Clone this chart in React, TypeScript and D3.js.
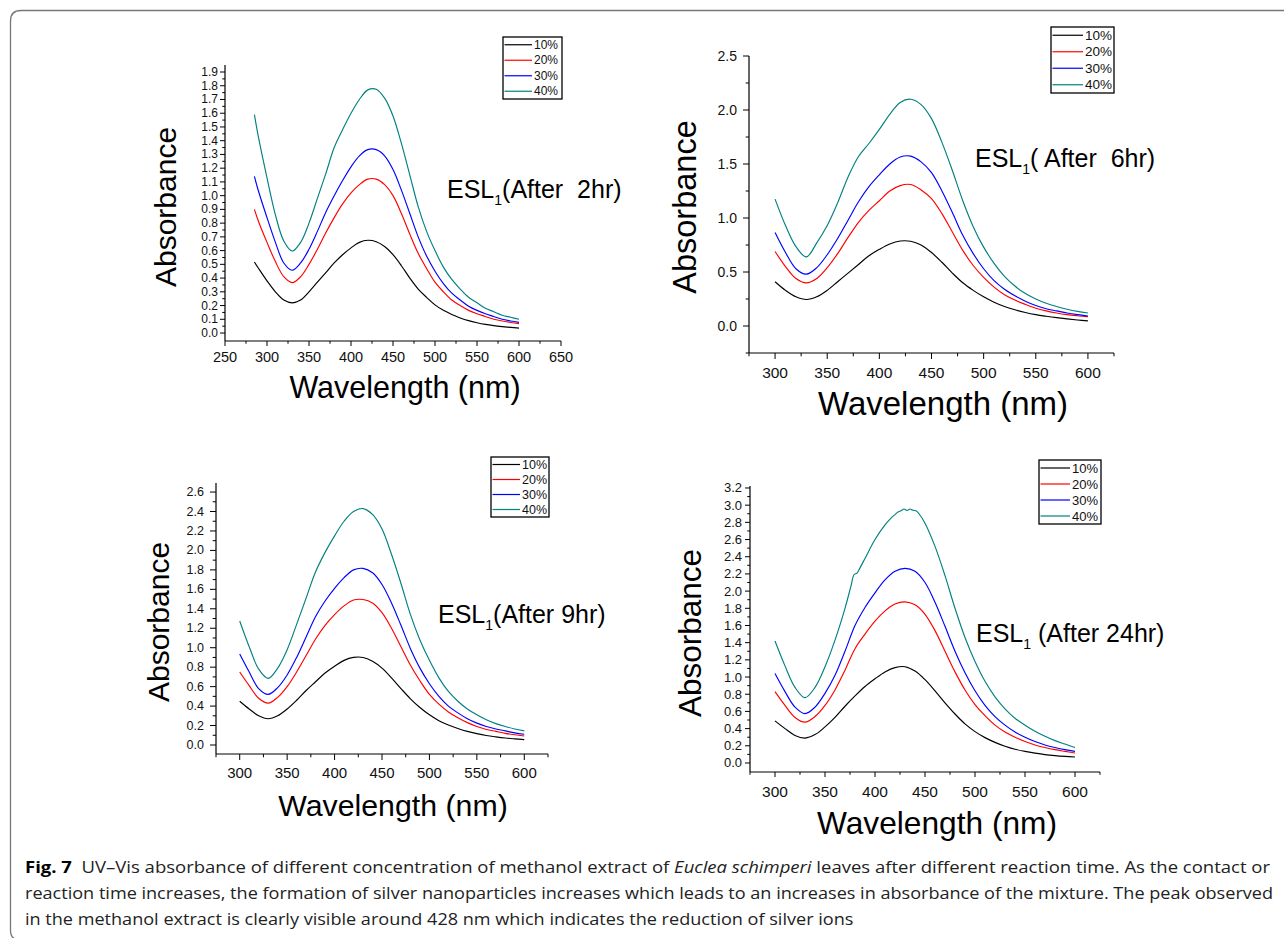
import React from "react";
import * as d3 from "d3";

// ---------- data ----------
const SERIES_NAMES = ["10%", "20%", "30%", "40%"];
const SERIES_COLORS = ["#000000", "#ff0000", "#0000ff", "#008080"];

const WL_2HR = [285, 290, 300, 310, 320, 330, 340, 350, 360, 370, 380, 390, 400, 410, 420, 430, 440, 450, 460, 470, 480, 490, 500, 510, 520, 530, 540, 550, 560, 570, 580, 590, 600];
const WL = [300, 310, 320, 330, 340, 350, 360, 370, 380, 390, 400, 410, 420, 430, 440, 450, 460, 470, 480, 490, 500, 510, 520, 530, 540, 550, 560, 570, 580, 590, 600];
const WL_24_40 = [300, 310, 320, 330, 340, 350, 360, 370, 376, 379, 382, 385, 390, 400, 410, 416, 420, 423, 426, 429, 432, 435, 438, 441, 444, 450, 460, 470, 480, 490, 500, 510, 520, 530, 540, 550, 560, 570, 580, 590, 600];

// After 2 hr
const A2_10 = [0.517, 0.47, 0.38, 0.30, 0.24, 0.22, 0.24, 0.30, 0.37, 0.44, 0.51, 0.57, 0.62, 0.66, 0.675, 0.665, 0.63, 0.57, 0.49, 0.40, 0.32, 0.26, 0.205, 0.165, 0.135, 0.11, 0.09, 0.075, 0.063, 0.054, 0.047, 0.041, 0.036];
const A2_20 = [0.90, 0.81, 0.66, 0.52, 0.41, 0.367, 0.41, 0.50, 0.61, 0.73, 0.84, 0.94, 1.02, 1.08, 1.12, 1.12, 1.08, 1.00, 0.87, 0.72, 0.58, 0.47, 0.37, 0.30, 0.24, 0.20, 0.165, 0.14, 0.12, 0.10, 0.088, 0.077, 0.068];
const A2_30 = [1.14, 1.03, 0.84, 0.66, 0.51, 0.457, 0.51, 0.61, 0.74, 0.88, 1.00, 1.11, 1.21, 1.29, 1.335, 1.335, 1.29, 1.19, 1.04, 0.87, 0.70, 0.56, 0.45, 0.36, 0.29, 0.24, 0.195, 0.165, 0.14, 0.12, 0.10, 0.088, 0.078];
const A2_40 = [1.59, 1.42, 1.13, 0.86, 0.67, 0.597, 0.66, 0.80, 0.98, 1.16, 1.35, 1.48, 1.60, 1.70, 1.77, 1.775, 1.71, 1.58, 1.38, 1.15, 0.92, 0.74, 0.60, 0.48, 0.39, 0.32, 0.26, 0.22, 0.18, 0.155, 0.13, 0.115, 0.10];

// After 6 hr
const A6_10 = [0.41, 0.33, 0.27, 0.245, 0.27, 0.33, 0.41, 0.49, 0.57, 0.65, 0.71, 0.76, 0.787, 0.785, 0.75, 0.68, 0.59, 0.49, 0.40, 0.33, 0.27, 0.22, 0.18, 0.15, 0.125, 0.105, 0.09, 0.077, 0.066, 0.056, 0.047];
const A6_20 = [0.69, 0.55, 0.44, 0.40, 0.44, 0.54, 0.67, 0.82, 0.96, 1.07, 1.16, 1.25, 1.30, 1.31, 1.26, 1.18, 1.04, 0.87, 0.70, 0.56, 0.45, 0.36, 0.29, 0.24, 0.20, 0.165, 0.14, 0.12, 0.105, 0.095, 0.087];
const A6_30 = [0.865, 0.68, 0.53, 0.48, 0.54, 0.66, 0.81, 0.98, 1.15, 1.29, 1.40, 1.50, 1.565, 1.573, 1.52, 1.42, 1.25, 1.05, 0.84, 0.67, 0.53, 0.42, 0.34, 0.28, 0.23, 0.19, 0.16, 0.14, 0.12, 0.105, 0.093];
const A6_40 = [1.175, 0.93, 0.735, 0.64, 0.77, 0.93, 1.14, 1.38, 1.57, 1.69, 1.82, 1.96, 2.07, 2.10, 2.05, 1.92, 1.70, 1.44, 1.16, 0.92, 0.73, 0.58, 0.46, 0.37, 0.30, 0.25, 0.21, 0.18, 0.155, 0.135, 0.12];

// After 9 hr
const A9_10 = [0.45, 0.37, 0.30, 0.27, 0.30, 0.37, 0.46, 0.56, 0.65, 0.74, 0.81, 0.87, 0.90, 0.90, 0.86, 0.79, 0.69, 0.58, 0.475, 0.385, 0.31, 0.25, 0.205, 0.17, 0.14, 0.117, 0.098, 0.084, 0.072, 0.063, 0.055];
const A9_20 = [0.75, 0.61, 0.48, 0.43, 0.49, 0.60, 0.75, 0.92, 1.09, 1.23, 1.34, 1.43, 1.49, 1.495, 1.46, 1.36, 1.20, 1.01, 0.82, 0.66, 0.52, 0.42, 0.34, 0.28, 0.23, 0.19, 0.16, 0.14, 0.12, 0.105, 0.093];
const A9_30 = [0.935, 0.75, 0.58, 0.52, 0.59, 0.72, 0.90, 1.11, 1.32, 1.48, 1.61, 1.72, 1.80, 1.815, 1.77, 1.65, 1.46, 1.23, 0.99, 0.79, 0.63, 0.50, 0.40, 0.33, 0.27, 0.225, 0.19, 0.165, 0.145, 0.125, 0.11];
const A9_40 = [1.275, 1.01, 0.78, 0.685, 0.79, 0.98, 1.24, 1.51, 1.78, 1.98, 2.15, 2.30, 2.40, 2.43, 2.37, 2.22, 1.96, 1.66, 1.34, 1.08, 0.87, 0.69, 0.55, 0.45, 0.37, 0.31, 0.26, 0.22, 0.19, 0.165, 0.145];

// After 24 hr
const A24_10 = [0.49, 0.40, 0.32, 0.29, 0.33, 0.42, 0.53, 0.66, 0.78, 0.89, 0.98, 1.06, 1.11, 1.12, 1.07, 0.97, 0.84, 0.70, 0.57, 0.455, 0.365, 0.295, 0.24, 0.195, 0.16, 0.135, 0.115, 0.098, 0.086, 0.077, 0.07];
const A24_20 = [0.83, 0.67, 0.53, 0.475, 0.54, 0.67, 0.85, 1.08, 1.33, 1.50, 1.65, 1.77, 1.85, 1.875, 1.84, 1.73, 1.54, 1.30, 1.06, 0.85, 0.68, 0.55, 0.44, 0.36, 0.30, 0.25, 0.21, 0.18, 0.155, 0.135, 0.116];
const A24_30 = [1.04, 0.83, 0.65, 0.575, 0.65, 0.81, 1.02, 1.30, 1.60, 1.81, 1.98, 2.13, 2.23, 2.265, 2.23, 2.10, 1.87, 1.59, 1.30, 1.05, 0.84, 0.67, 0.54, 0.44, 0.36, 0.30, 0.25, 0.21, 0.18, 0.155, 0.135];
const A24_40 = [1.42, 1.13, 0.88, 0.76, 0.88, 1.12, 1.43, 1.80, 2.06, 2.19, 2.21, 2.27, 2.38, 2.60, 2.77, 2.85, 2.89, 2.92, 2.935, 2.955, 2.94, 2.955, 2.94, 2.935, 2.90, 2.79, 2.52, 2.18, 1.80, 1.46, 1.18, 0.95, 0.77, 0.63, 0.52, 0.44, 0.37, 0.31, 0.26, 0.22, 0.18];

// ticks
const X_TICKS_2HR = [250, 300, 350, 400, 450, 500, 550, 600, 650];
const X_MINOR_2HR = [275, 325, 375, 425, 475, 525, 575, 625];
const X_TICKS = [300, 350, 400, 450, 500, 550, 600];
const X_MINOR = [275, 325, 375, 425, 475, 525, 575, 625];
const Y_TICKS_2HR = [0, 0.1, 0.2, 0.3, 0.4, 0.5, 0.6, 0.7, 0.8, 0.9, 1.0, 1.1, 1.2, 1.3, 1.4, 1.5, 1.6, 1.7, 1.8, 1.9];
const Y_MINOR_2HR = [0.05, 0.15, 0.25, 0.35, 0.45, 0.55, 0.65, 0.75, 0.85, 0.95, 1.05, 1.15, 1.25, 1.35, 1.45, 1.55, 1.65, 1.75, 1.85];
const Y_TICKS_6HR = [0, 0.5, 1.0, 1.5, 2.0, 2.5];
const Y_MINOR_6HR = [-0.25, 0.25, 0.75, 1.25, 1.75, 2.25];
const Y_TICKS_9HR = [0, 0.2, 0.4, 0.6, 0.8, 1.0, 1.2, 1.4, 1.6, 1.8, 2.0, 2.2, 2.4, 2.6];
const Y_MINOR_9HR = [0.1, 0.3, 0.5, 0.7, 0.9, 1.1, 1.3, 1.5, 1.7, 1.9, 2.1, 2.3, 2.5];
const Y_TICKS_24HR = [0, 0.2, 0.4, 0.6, 0.8, 1.0, 1.2, 1.4, 1.6, 1.8, 2.0, 2.2, 2.4, 2.6, 2.8, 3.0, 3.2];
const Y_MINOR_24HR = [0.1, 0.3, 0.5, 0.7, 0.9, 1.1, 1.3, 1.5, 1.7, 1.9, 2.1, 2.3, 2.5, 2.7, 2.9, 3.1];

const LABELS = ["(After  2hr)", "( After  6hr)", "(After 9hr)", " (After 24hr)"];

const CAPTION_1A = "Fig. 7";
const CAPTION_1B = "  UV–Vis absorbance of different concentration of methanol extract of ";
const CAPTION_1C = "Euclea schimperi";
const CAPTION_1D = " leaves after different reaction time. As the contact or";
const CAPTION_2 = "reaction time increases, the formation of silver nanoparticles increases which leads to an increases in absorbance of the mixture. The peak observed";
const CAPTION_3 = "in the methanol extract is clearly visible around 428 nm which indicates the reduction of silver ions";

// ---------- layout ----------
const FONT = "Arial, 'Liberation Sans', Helvetica, sans-serif";

const PANELS = [
  {
    series: [[WL_2HR, A2_10], [WL_2HR, A2_20], [WL_2HR, A2_30], [WL_2HR, A2_40]],
    xDom: [250, 650], xRange: [225, 561], yDom: [-0.058, 1.951], yRange: [341, 65],
    xTicks: X_TICKS_2HR, xMinor: X_MINOR_2HR, yTicks: Y_TICKS_2HR, yMinor: Y_MINOR_2HR,
    yFont: 12, xFont: 14.5, tick: 5, yGap: 2, xLabelY: 357,
    yTitle: [165, 207, 30], xTitle: [405, 387, 30.5],
    ann: [447, 198], label: LABELS[0],
    legend: [503, 37, 59, 62, 29, 12],
  },
  {
    series: [[WL, A6_10], [WL, A6_20], [WL, A6_30], [WL, A6_40]],
    xDom: [275, 625], xRange: [749, 1114], yDom: [-0.25, 2.5], yRange: [353, 56],
    xTicks: X_TICKS, xMinor: X_MINOR, yTicks: Y_TICKS_6HR, yMinor: Y_MINOR_6HR,
    yFont: 14, xFont: 15.5, tick: 6, yGap: 6, xLabelY: 372,
    yTitle: [685, 207, 32.5], xTitle: [943, 403, 33],
    ann: [975, 167], label: LABELS[1],
    legend: [1051, 27, 63, 66, 32, 13.5],
  },
  {
    series: [[WL, A9_10], [WL, A9_20], [WL, A9_30], [WL, A9_40]],
    xDom: [275, 625], xRange: [216, 548], yDom: [-0.0925, 2.693], yRange: [754, 483],
    xTicks: X_TICKS, xMinor: X_MINOR, yTicks: Y_TICKS_9HR, yMinor: Y_MINOR_9HR,
    yFont: 12.5, xFont: 15, tick: 6, yGap: 6, xLabelY: 772,
    yTitle: [158, 622, 30], xTitle: [393, 805, 30.3],
    ann: [438, 623], label: LABELS[2],
    legend: [491, 457, 58, 60, 29, 12.5],
  },
  {
    series: [[WL, A24_10], [WL, A24_20], [WL, A24_30], [WL_24_40, A24_40]],
    xDom: [275, 625], xRange: [750, 1100], yDom: [-0.105, 3.223], yRange: [772, 486],
    xTicks: X_TICKS, xMinor: X_MINOR, yTicks: Y_TICKS_24HR, yMinor: Y_MINOR_24HR,
    yFont: 13, xFont: 15.5, tick: 5, yGap: 3, xLabelY: 791,
    yTitle: [690, 633, 31.5], xTitle: [937, 823, 31.7],
    ann: [976, 642], label: LABELS[3],
    legend: [1039, 460, 62, 64, 31, 13],
  },
];

const fmt1 = d3.format(".1f");

function Panel({ p }: { p: (typeof PANELS)[number] }) {
  const x = d3.scaleLinear().domain(p.xDom).range(p.xRange);
  const y = d3.scaleLinear().domain(p.yDom).range(p.yRange);
  const xL = p.xRange[0];
  const xR = p.xRange[1];
  const yB = p.yRange[0];
  const yT = p.yRange[1];
  const line = (wl: number[], vals: number[]) =>
    d3
      .line<number>()
      .x((_, i) => x(wl[i]))
      .y((d) => y(d))
      .curve(d3.curveCatmullRom.alpha(0.5))(vals) || "";
  const [lx, ly, lw, lh, lineW, lFont] = p.legend;
  const rowH = lh / 4;
  return (
    <g fontFamily={FONT}>
      {p.series.map((s, i) => (
        <path key={i} d={line(s[0], s[1])} fill="none" stroke={SERIES_COLORS[i]} strokeWidth={1.15} />
      ))}
      <line x1={xL} y1={yT} x2={xL} y2={yB} stroke="#000" strokeWidth={1.2} />
      <line x1={xL} y1={yB} x2={xR} y2={yB} stroke="#000" strokeWidth={1.2} />
      {p.yTicks.map((v) => (
        <g key={"yt" + v}>
          <line x1={xL - p.tick} x2={xL} y1={y(v)} y2={y(v)} stroke="#000" strokeWidth={1} />
          <text x={xL - p.tick - p.yGap} y={y(v)} textAnchor="end" dominantBaseline="central" fontSize={p.yFont} fill="#111">
            {fmt1(v)}
          </text>
        </g>
      ))}
      {p.yMinor.map((v) => (
        <line key={"ym" + v} x1={xL - p.tick * 0.55} x2={xL} y1={y(v)} y2={y(v)} stroke="#000" strokeWidth={1} />
      ))}
      {p.xTicks.map((v) => (
        <g key={"xt" + v}>
          <line x1={x(v)} x2={x(v)} y1={yB} y2={yB + p.tick} stroke="#000" strokeWidth={1} />
          <text x={x(v)} y={p.xLabelY} textAnchor="middle" dominantBaseline="central" fontSize={p.xFont} fill="#111">
            {v}
          </text>
        </g>
      ))}
      {p.xMinor.map((v) => (
        <line key={"xm" + v} x1={x(v)} x2={x(v)} y1={yB} y2={yB + p.tick * 0.55} stroke="#000" strokeWidth={1} />
      ))}
      <text
        transform={`translate(${p.yTitle[0]},${p.yTitle[1]}) rotate(-90)`}
        textAnchor="middle"
        dominantBaseline="central"
        fontSize={p.yTitle[2]}
        fill="#000"
      >
        Absorbance
      </text>
      <text x={p.xTitle[0]} y={p.xTitle[1]} textAnchor="middle" dominantBaseline="central" fontSize={p.xTitle[2]} fill="#000">
        Wavelength (nm)
      </text>
      <text x={p.ann[0]} y={p.ann[1]} fontSize={25} fill="#000" style={{ whiteSpace: "pre" }}>
        <tspan>ESL</tspan>
        <tspan dy={7} fontSize={14}>1</tspan>
        <tspan dy={-7}>{p.label}</tspan>
      </text>
      <rect x={lx} y={ly} width={lw} height={lh} fill="#fff" stroke="#000" strokeWidth={1.3} />
      {SERIES_NAMES.map((n, i) => {
        const cy = ly + rowH * (i + 0.5);
        return (
          <g key={n}>
            <line x1={lx + 1.5} x2={lx + lineW} y1={cy} y2={cy} stroke={SERIES_COLORS[i]} strokeWidth={1.2} />
            <text x={lx + lineW + 2} y={cy} dominantBaseline="central" fontSize={lFont} fill="#111">
              {n}
            </text>
          </g>
        );
      })}
    </g>
  );
}

const CAPTION_FONT = "'Open Sans', 'Noto Sans', sans-serif";
const CAP_X = 25;
const LINE_FULL_1 = 1245;
const LINE_FULL_2 = 1248;

function Caption() {
  const r2 = React.useRef<SVGTextElement>(null);
  const r3 = React.useRef<SVGTextElement>(null);
  const [w3, setW3] = React.useState<number | null>(null);
  React.useLayoutEffect(() => {
    if (r2.current && r3.current) {
      const n2 = r2.current.getComputedTextLength();
      const n3 = r3.current.getComputedTextLength();
      setW3((n3 * LINE_FULL_2) / n2);
    }
  }, []);
  return (
    <g fontFamily={CAPTION_FONT} fontSize={16} fill="#222">
      <text x={CAP_X} y={873} textLength={LINE_FULL_1} lengthAdjust="spacingAndGlyphs" style={{ whiteSpace: "pre" }}>
        <tspan fontWeight="bold" fill="#000">{CAPTION_1A}</tspan>
        <tspan>{CAPTION_1B}</tspan>
        <tspan fontStyle="italic">{CAPTION_1C}</tspan>
        <tspan>{CAPTION_1D}</tspan>
      </text>
      <text ref={r2} x={CAP_X} y={899} {...(w3 !== null ? { textLength: LINE_FULL_2, lengthAdjust: "spacingAndGlyphs" } : {})}>
        {CAPTION_2}
      </text>
      <text ref={r3} x={CAP_X} y={925} {...(w3 !== null ? { textLength: w3, lengthAdjust: "spacingAndGlyphs" } : {})}>
        {CAPTION_3}
      </text>
    </g>
  );
}

export default function App() {
  return (
    <svg
      width={1284}
      height={938}
      viewBox="0 0 1284 938"
      style={{ position: "absolute", left: 0, top: 0, background: "#fff" }}
    >
      <rect x={0} y={0} width={1284} height={938} fill="#fff" />
      <path d="M 1290 10.5 L 21 10.5 Q 10.5 10.5 10.5 21 L 10.5 930 Q 10.5 940 20 940" fill="none" stroke="#777" strokeWidth={1.3} />
      {PANELS.map((p, i) => (
        <Panel key={i} p={p} />
      ))}
      <Caption />
    </svg>
  );
}
